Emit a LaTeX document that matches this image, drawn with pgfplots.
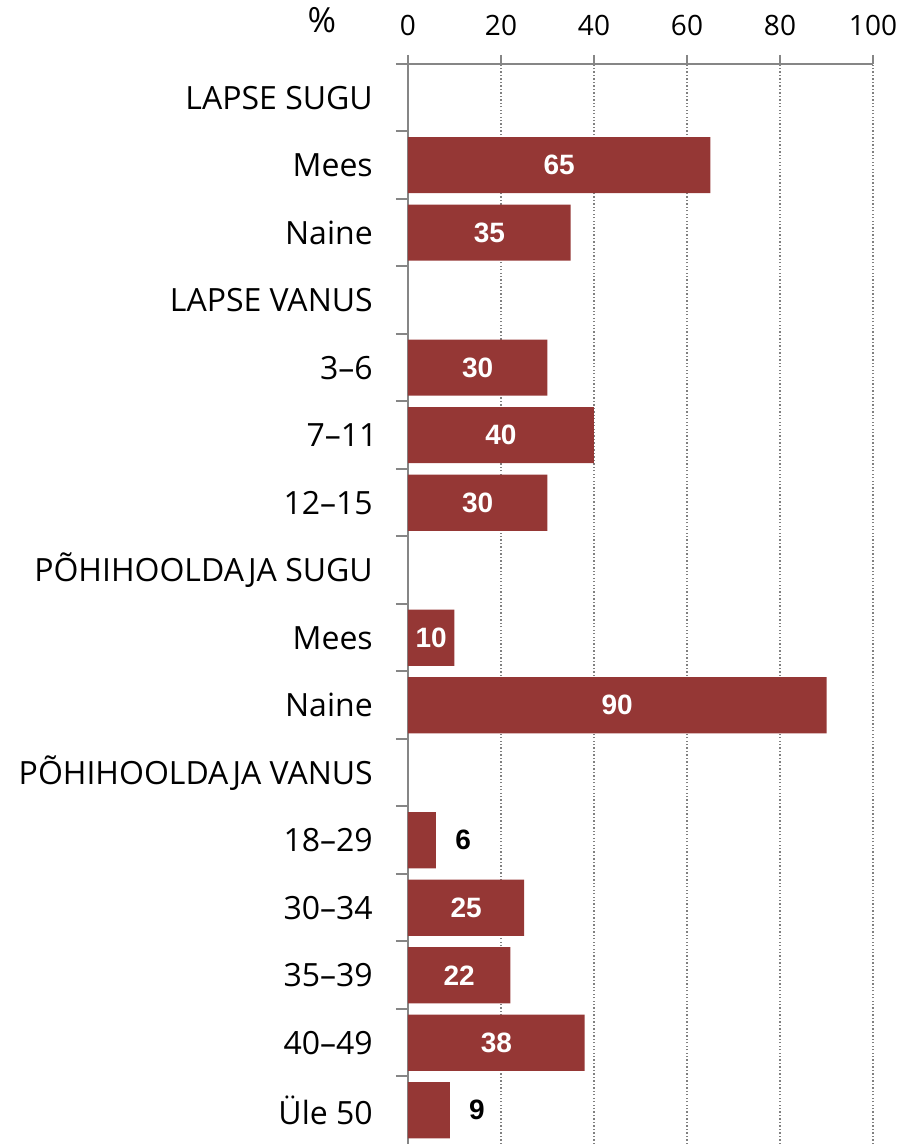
\documentclass[border=0pt]{standalone}
\usepackage{fontspec}
\setmainfont{Open Sans}
\newfontfamily\barfont{Liberation Sans}
\usepackage{pgfplots}
\usepackage{pgfplotstable}
\pgfplotsset{compat=1.18}
\definecolor{barred}{HTML}{953735}
\definecolor{axgray}{HTML}{868686}
\definecolor{gridgray}{HTML}{808080}
\pgfplotstableread{
y v
14 65
13 35
11 30
10 40
9 30
7 10
6 90
4 6
3 25
2 22
1 38
0 9
}\data
\begin{document}
\begin{tikzpicture}
\useasboundingbox (-306pt,0pt) rectangle (369.75pt,858pt);
\begin{axis}[
  at={(0pt,0pt)}, anchor=south west,
  scale only axis, width=348.75pt, height=810pt,
  xmin=0, xmax=100, ymin=-0.5, ymax=15.5,
  axis x line*=top, axis y line*=left,
  axis line style={axgray, line width=1.5pt},
  every tick/.style={axgray, line width=1.5pt},
  tick align=outside,
  xtick={0,20,...,100},
  major tick length=6.75pt,
  ytick={0,...,15},
  major y tick style={draw=none},
  minor ytick={0.5,1.5,...,15.5},
  minor tick length=9pt,
  yticklabels={Üle 50,40–49,35–39,30–34,18–29,PÕHIHOOLDAJA VANUS,Naine,Mees,PÕHIHOOLDAJA SUGU,12–15,{7–11\kern-3.5pt},{3–6\ },LAPSE VANUS,Naine,Mees,LAPSE SUGU},
  yticklabel style={anchor=east, inner sep=0pt, xshift=-19.5pt, font=\fontsize{24}{28}\selectfont},
  xticklabel style={anchor=base, inner sep=0pt, yshift=14.25pt, font=\fontsize{21}{24}\selectfont},
  /pgf/number format/assume math mode=true,
  xmajorgrids,
  grid style={gridgray, line width=1pt, dash pattern=on 1pt off 1.6pt},
  clip=false,
]
\addplot[xbar, bar width=0.83, fill=barred, draw=none] table[x=v, y=y]{\data};
\addplot[only marks, mark=none, point meta=\thisrow{v},
  nodes near coords,
  every node near coord/.style={anchor=center, text=white, font=\barfont\bfseries\fontsize{21}{24}\selectfont},
  x filter/.expression={x<10 ? nan : x/2}] table[x=v, y=y]{\data};
\addplot[only marks, mark=none, point meta=\thisrow{v},
  nodes near coords,
  every node near coord/.style={anchor=west, xshift=11pt, text=black, font=\barfont\bfseries\fontsize{21}{24}\selectfont},
  x filter/.expression={x<10 ? x : nan}] table[x=v, y=y]{\data};
\node[anchor=base, inner sep=0pt] at ([xshift=-64.5pt, yshift=23.25pt]rel axis cs:0,1) {\fontsize{26}{30}\selectfont\%};
\end{axis}
\end{tikzpicture}
\end{document}
